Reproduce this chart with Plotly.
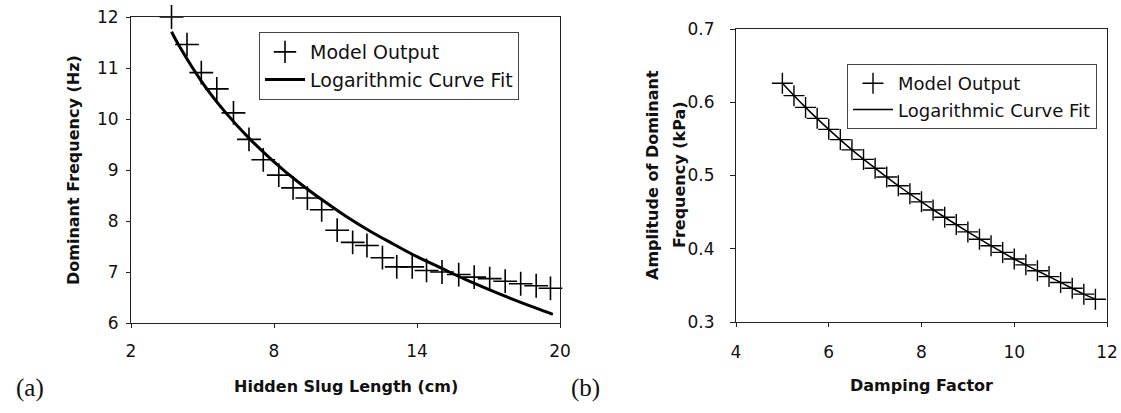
import plotly.graph_objects as go

# ---- Panel (a): Dominant frequency vs hidden slug length ----
slug_len = [3.7, 4.35, 4.95, 5.6, 6.3, 6.95, 7.55, 8.2, 8.8, 9.4, 10.0, 10.65, 11.3,
            11.9, 12.55, 13.15, 13.8, 14.4, 15.05, 15.75, 16.4, 17.05, 17.7, 18.35, 19.0, 19.6]
dom_freq = [12.0, 11.46, 10.91, 10.59, 10.12, 9.6, 9.2, 8.9, 8.65, 8.45, 8.22, 7.82, 7.58,
            7.52, 7.28, 7.1, 7.1, 7.03, 7.0, 6.95, 6.9, 6.87, 6.82, 6.77, 6.73, 6.68]
fit_a_x = [3.7, 4, 5, 6, 7, 8, 9, 10, 11, 12, 13, 14, 15, 16, 17, 18, 19, 19.7]
fit_a_y = [11.71, 11.45, 10.71, 10.11, 9.60, 9.16, 8.77, 8.42, 8.10, 7.81, 7.55, 7.30,
           7.08, 6.86, 6.66, 6.47, 6.29, 6.17]

# ---- Panel (b): Amplitude vs damping factor ----
damping = [5.0, 5.25, 5.5, 5.75, 6.0, 6.25, 6.5, 6.75, 7.0, 7.25, 7.5, 7.75, 8.0, 8.25,
           8.5, 8.75, 9.0, 9.25, 9.5, 9.75, 10.0, 10.25, 10.5, 10.75, 11.0, 11.25, 11.5, 11.75]
amplitude = [0.626, 0.609, 0.593, 0.578, 0.563, 0.549, 0.535, 0.522, 0.510, 0.498, 0.486,
             0.475, 0.464, 0.453, 0.443, 0.433, 0.423, 0.413, 0.404, 0.395, 0.386, 0.378,
             0.370, 0.362, 0.354, 0.346, 0.338, 0.331]
fit_b_x = [5.0, 5.5, 6.0, 6.5, 7.0, 7.5, 8.0, 8.5, 9.0, 9.5, 10.0, 10.5, 11.0, 11.5, 11.75]
fit_b_y = [0.626, 0.593, 0.563, 0.535, 0.510, 0.486, 0.464, 0.443, 0.423, 0.404, 0.386,
           0.370, 0.354, 0.338, 0.331]

W, H = 1121, 413
def px(x):
    return x / W
def py(y):
    return 1 - y / H

SANS = "DejaVu Sans"
fig = go.Figure()

fig.add_trace(go.Scatter(x=slug_len, y=dom_freq, mode="markers", name="Model Output",
                         marker=dict(symbol="cross-thin", size=17, color="black",
                                     line=dict(width=1.6, color="black")),
                         cliponaxis=False, xaxis="x", yaxis="y", legend="legend"))
fig.add_trace(go.Scatter(x=fit_a_x, y=fit_a_y, mode="lines", name="Logarithmic Curve Fit",
                         line=dict(color="black", width=3, shape="spline"),
                         xaxis="x", yaxis="y", legend="legend"))

fig.add_trace(go.Scatter(x=damping, y=amplitude, mode="markers", name="Model Output",
                         marker=dict(symbol="cross-thin", size=15, color="black",
                                     line=dict(width=1.4, color="black")),
                         cliponaxis=False, xaxis="x2", yaxis="y2", legend="legend2"))
fig.add_trace(go.Scatter(x=fit_b_x, y=fit_b_y, mode="lines", name="Logarithmic Curve Fit",
                         line=dict(color="black", width=1.5, shape="spline"),
                         xaxis="x2", yaxis="y2", legend="legend2"))

axis_common = dict(showgrid=False, zeroline=False, showline=True, linecolor="#222",
                   linewidth=1, mirror=True, ticks="outside", tickcolor="#222",
                   automargin=False,
                   tickfont=dict(family=SANS, size=17, color="#111"))

fig.update_layout(
    width=W, height=H,
    margin=dict(l=0, r=0, t=0, b=0, autoexpand=False),
    paper_bgcolor="white", plot_bgcolor="white",
    showlegend=True,
    xaxis=dict(domain=[px(131), px(560)], range=[2, 20], tickvals=[2, 8, 14, 20],
               ticklen=4, ticklabelstandoff=9, anchor="y", **axis_common),
    yaxis=dict(domain=[py(323), py(17)], range=[6, 12], dtick=1, ticklen=4,
               ticklabelstandoff=4, anchor="x", **axis_common),
    xaxis2=dict(domain=[px(736), px(1107)], range=[4, 12], dtick=2, ticklen=4,
                ticklabelstandoff=11, anchor="y2", **axis_common),
    yaxis2=dict(domain=[py(322), py(29)], range=[0.3, 0.7], dtick=0.1, tickformat=".1f",
                ticklen=5, ticklabelstandoff=12, anchor="x2", **axis_common),
    legend=dict(x=px(259), y=py(32), xanchor="left", yanchor="top",
                bgcolor="white", bordercolor="#444", borderwidth=1,
                font=dict(family=SANS, size=19, color="#111"), tracegroupgap=0,
                itemwidth=40),
    legend2=dict(x=px(847), y=py(64), xanchor="left", yanchor="top",
                 bgcolor="white", bordercolor="#444", borderwidth=1,
                 font=dict(family=SANS, size=18, color="#111"), tracegroupgap=0,
                 itemwidth=40),
)

title_font = dict(family=SANS, size=16, color="#111", weight="bold")
ann = [
    dict(text="Hidden Slug Length (cm)", x=px(346), y=py(386)),
    dict(text="Damping Factor", x=px(921), y=py(385)),
    dict(text="Dominant Frequency (Hz)", x=px(73), y=py(170), textangle=-90),
    dict(text="Amplitude of Dominant", x=px(652), y=py(175), textangle=-90),
    dict(text="Frequency (kPa)", x=px(679), y=py(175), textangle=-90),
]
for a in ann:
    fig.add_annotation(xref="paper", yref="paper", xanchor="center", yanchor="middle",
                       showarrow=False, font=title_font, **a)

for lab, xc in [("(a)", 30), ("(b)", 585)]:
    fig.add_annotation(text=lab, xref="paper", yref="paper", x=px(xc), y=py(388),
                       xanchor="center", yanchor="middle", showarrow=False,
                       font=dict(family="Liberation Serif", size=25, color="#111"))

fig.write_html("out.html",
               config={"displayModeBar": False},
               post_script="document.body.style.margin='0px';"
                           "document.body.style.overflow='hidden';")
